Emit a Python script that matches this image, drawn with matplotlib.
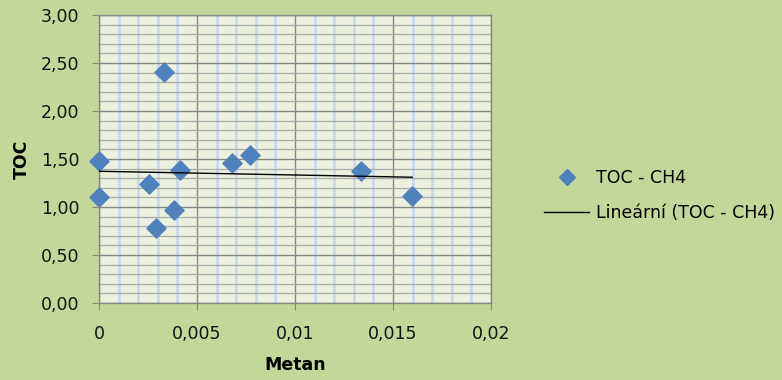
import numpy as np
import matplotlib
matplotlib.use("Agg")
import matplotlib.pyplot as plt
from matplotlib.ticker import MultipleLocator, FuncFormatter
from matplotlib.lines import Line2D

# data
metan = [0.0, 0.0, 0.00257, 0.00291, 0.0033, 0.00385, 0.00412, 0.00679, 0.00768, 0.01338, 0.01598]
toc = [1.48, 1.10, 1.24, 0.78, 2.41, 0.97, 1.39, 1.46, 1.54, 1.38, 1.11]

series_label = "TOC - CH4"
trend_label = "Lineární (TOC - CH4)"

plt.rcParams['font.family'] = ['DejaVu Sans']

fig = plt.figure(figsize=(7.82, 3.80), dpi=100)
fig.patch.set_facecolor('#C4D79B')
ax = fig.add_axes([0.1266, 0.2026, 0.5014, 0.7579])
ax.set_facecolor('#EBF1DE')

ax.set_xlim(0, 0.02)
ax.set_ylim(0, 3.0)
ax.xaxis.set_major_locator(MultipleLocator(0.005))
ax.xaxis.set_minor_locator(MultipleLocator(0.001))
ax.yaxis.set_major_locator(MultipleLocator(0.5))
ax.yaxis.set_minor_locator(MultipleLocator(0.1))

ax.grid(which='minor', axis='x', color='#C9D9F0', linewidth=2.0)
ax.grid(which='minor', axis='y', color='#ABABAB', linewidth=0.9)
ax.grid(which='major', color='#868686', linewidth=1.0)
ax.set_axisbelow(True)

for s in ax.spines.values():
    s.set_color('#868686')
    s.set_linewidth(1.0)

ax.tick_params(which='major', length=5, color='#868686', labelsize=12.5,
               labelcolor='#111111')
ax.tick_params(which='minor', length=0)
ax.tick_params(axis='x', pad=11)
ax.tick_params(axis='y', pad=9)

ax.xaxis.set_major_formatter(FuncFormatter(lambda v, p: ('%g' % round(v, 4)).replace('.', ',')))
ax.yaxis.set_major_formatter(FuncFormatter(lambda v, p: ('%.2f' % v).replace('.', ',')))

ax.scatter(metan, toc, marker='D', s=95, color='#4F81BD', zorder=3, clip_on=False)

# linear trend
k, q = np.polyfit(metan, toc, 1)
xs = np.array([min(metan), max(metan)])
ax.plot(xs, k * xs + q, color='black', linewidth=1.0, zorder=4)

ax.set_xlabel('Metan', fontsize=12.5, fontweight='bold', labelpad=9)
ax.set_ylabel('TOC', fontsize=12.5, fontweight='bold', labelpad=7)

handles = [Line2D([], [], marker='D', linestyle='none', color='#4F81BD', markersize=8),
           Line2D([], [], color='black', linewidth=1.0)]
fig.legend(handles, [series_label, trend_label], loc='center left',
           bbox_to_anchor=(0.676, 0.485), frameon=False, fontsize=12.5,
           handlelength=2.6, labelspacing=1.0, handletextpad=0.4)

fig.savefig('out.png', dpi=100, facecolor=fig.get_facecolor())
